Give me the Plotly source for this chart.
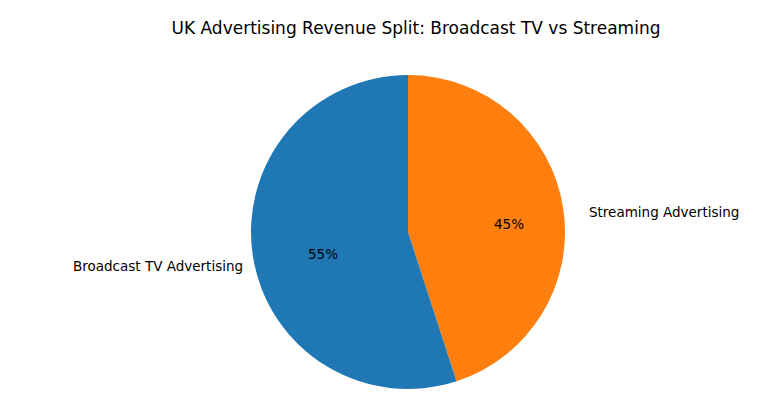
import math
import plotly.graph_objects as go

labels = ["Broadcast TV Advertising", "Streaming Advertising"]
values = [55, 45]
colors = ["#1f77b4", "#ff7f0e"]

W, H = 768, 403
cx, cy, r = 400, 224, 157  # domain centre (rendered pie sits ~8px lower-right)
acx, acy = 408, 231  # visual centre for the text

# plotly draws clockwise from 12 o'clock; streaming goes first on the right
fig = go.Figure(go.Pie(
    labels=labels[::-1], values=values[::-1], sort=False, direction="clockwise",
    rotation=0, marker=dict(colors=colors[::-1]), textinfo="none", hoverinfo="label+percent",
    domain=dict(x=[(cx - r) / W, (cx + r) / W], y=[1 - (cy + r) / H, 1 - (cy - r) / H]),
))

# labels at 1.1 r and percentages at 0.6 r, counterclockwise from the top
total = sum(values)
start = 90.0
ann = []
for lab, v in zip(labels, values):
    span = 360.0 * v / total
    mid = math.radians(start + span / 2)
    start += span
    lx, ly = acx + 1.1 * r * math.cos(mid), acy - 1.1 * r * math.sin(mid)
    px_, py_ = acx + 0.6 * r * math.cos(mid), acy - 0.6 * r * math.sin(mid)
    ann.append(dict(x=lx / W, y=1 - ly / H, xref="paper", yref="paper", text=lab,
                    showarrow=False, xanchor="right" if math.cos(mid) < 0 else "left",
                    font=dict(size=13.5, color="black")))
    ann.append(dict(x=px_ / W, y=1 - py_ / H, xref="paper", yref="paper",
                    text=f"{v / total * 100:.0f}%", showarrow=False,
                    font=dict(size=13.5, color="black")))

fig.update_layout(
    width=W, height=H, margin=dict(l=0, r=0, t=0, b=0),
    paper_bgcolor="white", showlegend=False,
    font=dict(family="DejaVu Sans"),
    title=dict(text="UK Advertising Revenue Split: Broadcast TV vs Streaming",
               x=408 / W, xanchor="center", y=1 - 20 / H, yanchor="middle",
               font=dict(size=17, color="black")),
    annotations=ann,
)

fig.write_html("out.html")
